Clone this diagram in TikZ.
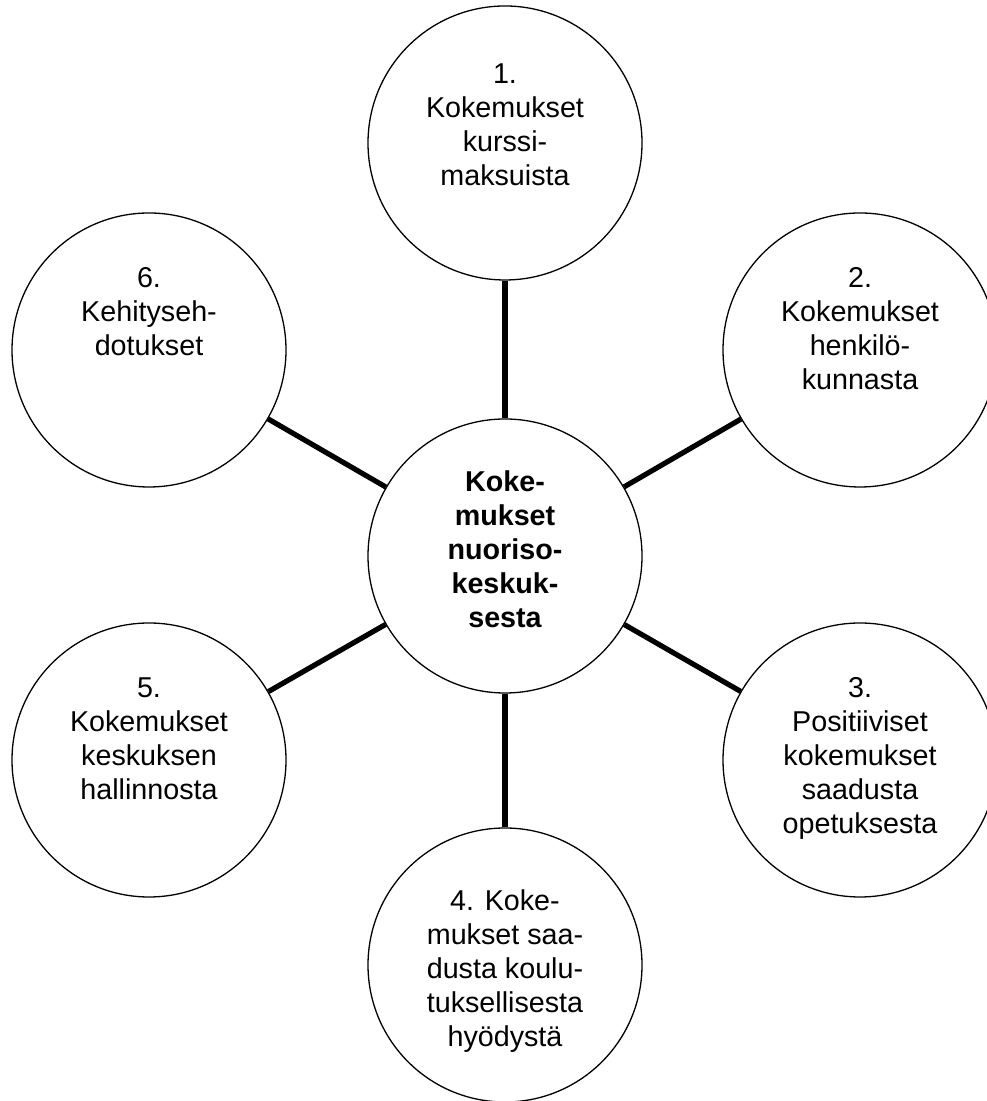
\documentclass[tikz,border=0pt]{standalone}
\usepackage{fontspec}
\setmainfont{Liberation Sans}
\usetikzlibrary{positioning}
\begin{document}
\begin{tikzpicture}[x=0.5pt,y=0.5pt,
  bubble/.style={draw,circle,line width=0.65pt,minimum size=137pt,inner sep=0pt},
  txt/.style={align=center,inner sep=0pt,font=\fontsize{14.35}{17}\selectfont},
  spoke/.style={line width=2.6pt}]
\useasboundingbox (0,0) rectangle (986,1101);
\node[bubble] (hub) at (505,545) {};
\node[bubble] (k1) at (505,958) {};
\node[bubble] (k2) at (860,751) {};
\node[bubble] (k3) at (860,341) {};
\node[bubble] (k4) at (505,136) {};
\node[bubble] (k5) at (149,341) {};
\node[bubble] (k6) at (149,751) {};
\foreach \n in {k1,k2,k3,k4,k5,k6}
  \draw[spoke] (hub) -- (\n);
% texts, top aligned in the circles
\node[txt,font=\fontsize{14.35}{17}\selectfont\bfseries,below=26pt of hub.north] (thub)
  {Koke-\\mukset\\nuoriso-\\keskuk-\\sesta};
\node[txt,below=29pt of k1.north] (t1) {1.\\Kokemukset\\kurssi-\\maksuista};
\node[txt,below=27.5pt of k2.north] (t2) {2.\\Kokemukset\\henkilö-\\kunnasta};
\node[txt,below=27.5pt of k3.north] (t3) {3.\\Positiiviset\\kokemukset\\saadusta\\opetuksesta};
\node[txt,below=31pt of k4.north] (t4) {4. Koke-\\mukset saa-\\dusta koulu-\\tuksellisesta\\hyödystä};
\node[txt,below=27.5pt of k5.north] (t5) {5.\\Kokemukset\\keskuksen\\hallinnosta};
\node[txt,below=27.5pt of k6.north] (t6) {6.\\Kehityseh-\\dotukset};
\end{tikzpicture}
\end{document}
